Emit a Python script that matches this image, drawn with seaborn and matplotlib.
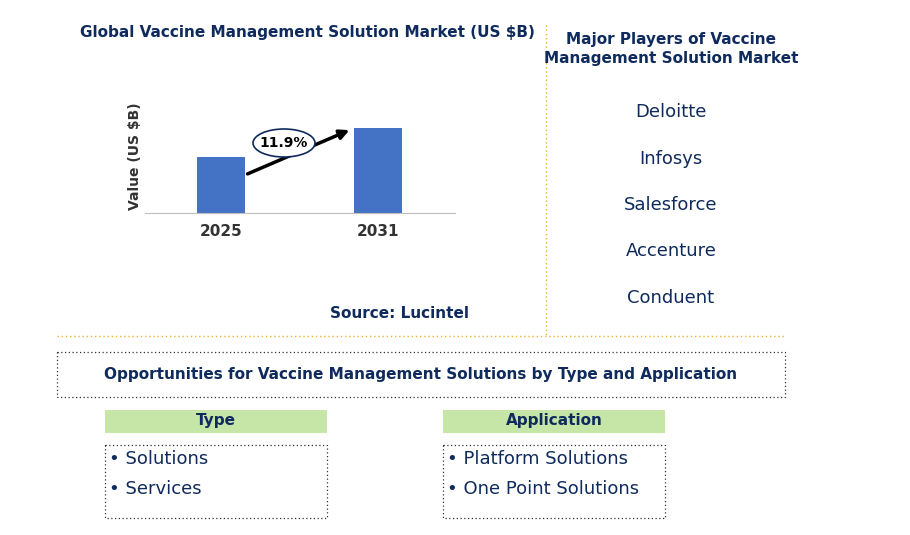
import matplotlib
matplotlib.use("Agg")
import matplotlib.pyplot as plt
import seaborn as sns
import pandas as pd
from matplotlib.patches import Rectangle, Ellipse

years = ["2025", "2031"]
values = [2.0, 3.0]
cagr = "11.9%"
players = ["Deloitte", "Infosys", "Salesforce", "Accenture", "Conduent"]
types = ["Solutions", "Services"]
applications = ["Platform Solutions", "One Point Solutions"]

W, H = 910, 535
navy = "#0f2a5c"
fig = plt.figure(figsize=(9.1, 5.35), dpi=100)
ax = fig.add_axes([145/W, 1-213/H, 310/W, 113/H])
df = pd.DataFrame({"year": years, "value": values})
sns.barplot(data=df, x="year", y="value", color="#4472C4", width=0.306, saturation=1, ax=ax)
ax.set_xlim(-0.484, 1.49)
ax.set_ylim(0, 4.0)
for s in ["top", "right", "left"]:
    ax.spines[s].set_visible(False)
ax.spines["bottom"].set_color("#bfbfbf")
ax.set_yticks([])
ax.tick_params(axis="x", length=0, pad=8)
for t in ax.get_xticklabels():
    t.set_fontweight("bold"); t.set_fontsize(11); t.set_color("#333333")
ax.set_xlabel("")
ax.set_ylabel("Value (US $B)", fontsize=10, fontweight="bold", color="#333333", labelpad=2)

def px(x, y):
    return x/W, 1-y/H

fa = fig.add_axes([0, 0, 1, 1], facecolor="none")
fa.set_xlim(0, W); fa.set_ylim(H, 0); fa.axis("off")
fa.annotate("", xy=(352, 129), xytext=(245, 175),
            arrowprops=dict(arrowstyle="-|>", color="black", lw=2.5, mutation_scale=14))
fa.add_patch(Ellipse((284, 143), 62, 28, facecolor="white", edgecolor=navy, lw=1.2, zorder=3))
fa.text(284, 143, cagr, ha="center", va="center", fontsize=10, fontweight="bold", color="black", zorder=4)

fa.text(307, 33, "Global Vaccine Management Solution Market (US $B)", ha="center", va="center",
        fontsize=11, fontweight="bold", color=navy)
fa.text(399, 314, "Source: Lucintel", ha="center", va="center", fontsize=11, fontweight="bold", color=navy)
fa.text(671, 49, "Major Players of Vaccine\nManagement Solution Market", ha="center", va="center",
        fontsize=11, fontweight="bold", color=navy, linespacing=1.3)
for i, p in enumerate(players):
    fa.text(671, 112 + i*46.5, p, ha="center", va="center", fontsize=13, color=navy)

orange = "#f0b030"
fa.plot([546, 546], [25, 335], ls=(0, (1, 2)), color=orange, lw=1)
fa.plot([57, 785], [336, 336], ls=(0, (1, 2)), color=orange, lw=1)

fa.add_patch(Rectangle((57, 352), 728, 45, fill=False, ls=(0, (1, 2)), ec="#333333", lw=0.9))
fa.text(421, 375, "Opportunities for Vaccine Management Solutions by Type and Application",
        ha="center", va="center", fontsize=11, fontweight="bold", color=navy)

for x0, title, items in [(105, "Type", types), (443, "Application", applications)]:
    fa.add_patch(Rectangle((x0, 410), 222, 23, fc="#c5e6a6", ec="none"))
    fa.text(x0+111, 421, title, ha="center", va="center", fontsize=11, fontweight="bold", color=navy)
    fa.add_patch(Rectangle((x0, 445), 222, 73, fill=False, ls=(0, (1, 2)), ec="#333333", lw=0.9))
    for j, it in enumerate(items):
        fa.text(x0+4, 459 + j*30, "\u2022 " + it, ha="left", va="center", fontsize=13, color=navy)

fig.savefig("out.png", dpi=100)
